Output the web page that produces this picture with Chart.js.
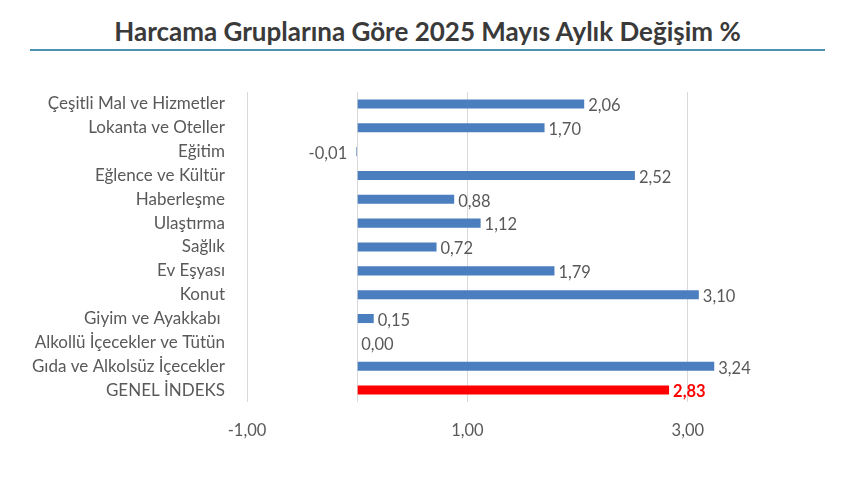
<!DOCTYPE html>
<html>
<head>
<meta charset="utf-8">
<script src="https://cdn.jsdelivr.net/npm/chart.js@4"></script>
<style>
  html, body { margin: 0; padding: 0; background: #fff; }
  #wrap { position: relative; width: 850px; height: 486px; }
  #title {
    position: absolute; left: 30px; top: 15px; width: 795px;
    text-align: center; font-family: Lato, sans-serif; font-weight: bold;
    font-size: 26px; color: #3a3a3a; padding-bottom: 2px;
    border-bottom: 2px solid #4b92b4;
  }
  canvas { position: absolute; left: 0; top: 0; }
</style>
</head>
<body>
<div id="wrap">
  <div id="title">Harcama Gruplarına Göre 2025 Mayıs Aylık Değişim %</div>
  <canvas id="chart" width="850" height="486"></canvas>
</div>
<script>
// Kategoriler (yukarıdan aşağıya)
var categories = [
  "Çeşitli Mal ve Hizmetler",
  "Lokanta ve Oteller",
  "Eğitim",
  "Eğlence ve Kültür",
  "Haberleşme",
  "Ulaştırma",
  "Sağlık",
  "Ev Eşyası",
  "Konut",
  "Giyim ve Ayakkabı ",
  "Alkollü İçecekler ve Tütün",
  "Gıda ve Alkolsüz İçecekler",
  "GENEL İNDEKS"
];
var values = [2.06, 1.70, -0.01, 2.52, 0.88, 1.12, 0.72, 1.79, 3.10, 0.15, 0.00, 3.24, 2.83];
var tickValues = [-1, 0, 1, 3];

var blue = "#4a7ebf";
var red = "#ff0000";
var barColors = categories.map(function(c, i) {
  return i === categories.length - 1 ? red : blue;
});

function fmt(v) {
  return v.toFixed(2).replace(".", ",");
}

// Değer etiketleri
var valueLabels = {
  id: "valueLabels",
  afterDatasetsDraw: function(chart) {
    var ctx = chart.ctx;
    var meta = chart.getDatasetMeta(0);
    var xScale = chart.scales.x;
    ctx.save();
    ctx.textBaseline = "middle";
    meta.data.forEach(function(bar, i) {
      var v = values[i];
      var last = i === values.length - 1;
      ctx.font = (last ? "bold " : "") + "16.5px Lato, sans-serif";
      ctx.fillStyle = last ? red : "#595959";
      if (v < 0) {
        ctx.textAlign = "right";
        ctx.fillText(fmt(v), xScale.getPixelForValue(0) - 10, bar.y + 2);
      } else {
        ctx.textAlign = "left";
        ctx.fillText(fmt(v), bar.x + 4, bar.y + 2);
      }
    });
    ctx.restore();
  }
};

var ctx = document.getElementById("chart").getContext("2d");
new Chart(ctx, {
  type: "bar",
  data: {
    labels: categories,
    datasets: [{
      data: values,
      backgroundColor: barColors,
      borderWidth: 0,
      barPercentage: 0.76,
      categoryPercentage: 0.5
    }]
  },
  options: {
    indexAxis: "y",
    responsive: false,
    animation: false,
    layout: { padding: { top: 92, bottom: 39, left: 0, right: 52 } },
    plugins: {
      legend: { display: false },
      tooltip: { enabled: false },
      title: { display: false }
    },
    scales: {
      x: {
        min: -1,
        max: 4,
        afterBuildTicks: function(scale) {
          scale.ticks = tickValues.map(function(v) { return { value: v }; });
        },
        afterFit: function(scale) { scale.height = 45; },
        grid: { color: "#d9d9d9", drawTicks: false },
        border: { display: false },
        ticks: {
          padding: 19,
          color: "#595959",
          font: { family: "Lato, sans-serif", size: 16.5 },
          callback: function(v) { return v === 0 ? "" : fmt(v); }
        }
      },
      y: {
        afterFit: function(scale) { scale.width = 247; },
        grid: { display: false, drawTicks: false },
        border: { display: false },
        ticks: {
          padding: 22,
          autoSkip: false,
          color: "#595959",
          font: { family: "Lato, sans-serif", size: 17 }
        }
      }
    }
  },
  plugins: [valueLabels]
});
</script>
</body>
</html>
